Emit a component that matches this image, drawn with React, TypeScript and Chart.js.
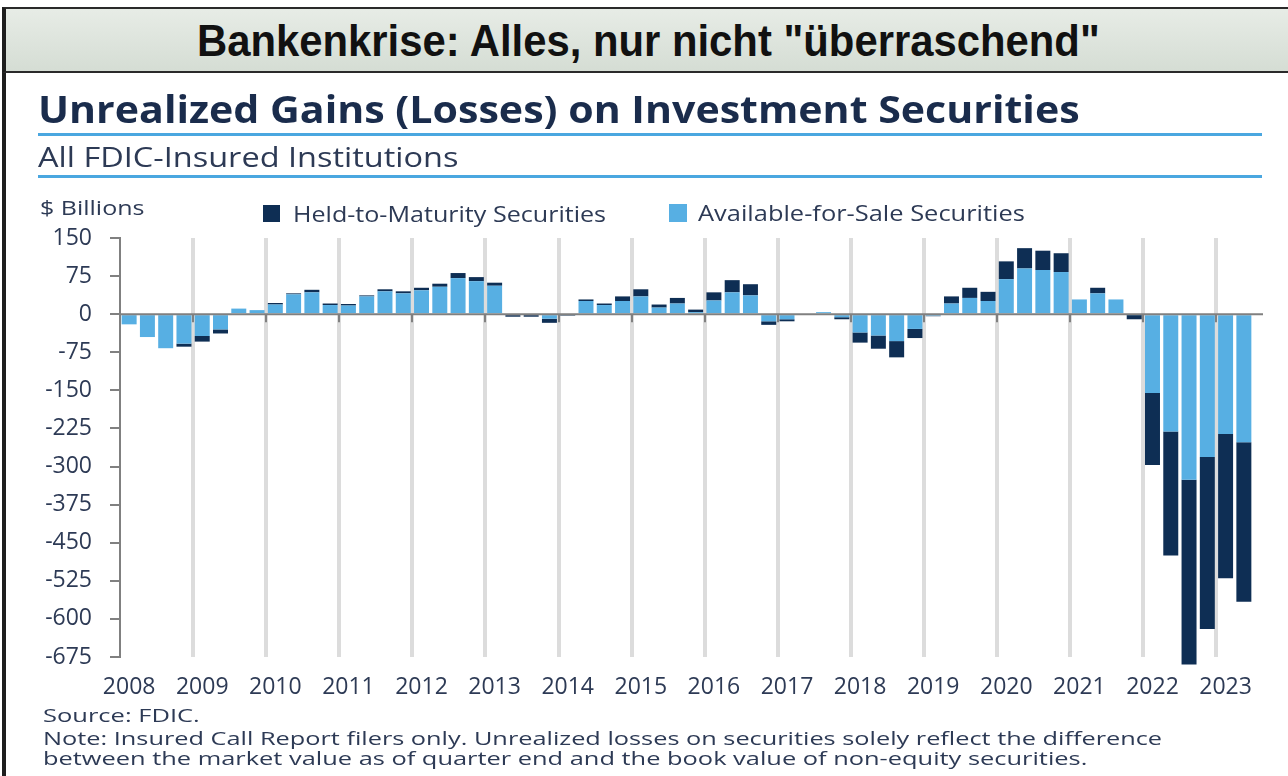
import React, { useEffect, useLayoutEffect, useRef, useState } from "react";
import { Chart, registerables } from "chart.js";

Chart.register(...registerables);

// ---- data ----
const years = ["2008", "2009", "2010", "2011", "2012", "2013", "2014", "2015", "2016", "2017", "2018", "2019", "2020", "2021", "2022", "2023"];
const quarters = ["Q1", "Q2", "Q3", "Q4"];
const quarterLabels = years.flatMap((y) => quarters.map((q) => `${y} ${q}`)).slice(0, 62);

// Available-for-Sale securities, $ billions (2008 Q1 – 2023 Q2)
const afsValues = [
  -20, -45, -67, -58,
  -43, -30, 11, 8,
  19, 39, 43, 18,
  17, 35, 45, 41,
  47, 54, 71, 65,
  56, 2, 2, -9,
  2, 26, 18, 26,
  35, 13, 21, 4,
  27, 43, 37, -14,
  -10, 0, 4, -6,
  -36, -42, -53, -29,
  -3, 21, 32, 26,
  69, 90, 87, 83,
  29, 41, 29, -1,
  -155, -231, -326, -281,
  -236, -252,
];
// Held-to-Maturity securities, $ billions
const htmValues = [
  0, 0, 0, -6,
  -11, -8, 0, 0,
  3, 2, 5, 3,
  3, 2, 4, 4,
  5, 6, 10, 8,
  6, -5, -5, -8,
  -3, 3, 3, 9,
  14, 6, 11, 5,
  16, 24, 22, -7,
  -4, 0, 0, -4,
  -20, -26, -32, -18,
  -1, 14, 20, 18,
  35, 40, 38, 37,
  0, 11, 0, -9,
  -142, -244, -364, -339,
  -284, -314,
];
const yMin = -675;
const yMax = 150;
const yStep = 75;

const seriesNames = ["Held-to-Maturity Securities", "Available-for-Sale Securities"];
const noteLines = [
  "Source: FDIC.",
  "Note: Insured Call Report filers only. Unrealized losses on securities solely reflect the difference",
  "between the market value as of quarter end and the book value of non-equity securities.",
];

// ---- styles ----
const LIGHT = "#57afe3";
const DARK = "#0e2e54";
const TEXT = "#2d3a55";
const NAVY = "#1a2c4c";
const RULE = "#4aa7e0";
const BODY_FONT = "'Open Sans', 'DejaVu Sans', sans-serif";

type FitProps = {
  text: string;
  x: number;
  cy: number;
  w: number;
  size: number;
  family?: string;
  weight?: number | string;
  color?: string;
};

function FitText({ text, x, cy, w, size, family = BODY_FONT, weight = 400, color = TEXT }: FitProps) {
  const ref = useRef<HTMLSpanElement>(null);
  const [scale, setScale] = useState(1);
  useLayoutEffect(() => {
    const measure = () => {
      const el = ref.current;
      if (!el) return;
      const nat = el.offsetWidth;
      if (nat > 0) setScale(w / nat);
    };
    measure();
    if ((document as any).fonts && (document as any).fonts.ready) {
      (document as any).fonts.ready.then(measure);
    }
  }, [text, w, size, family]);
  return (
    <span
      ref={ref}
      style={{
        position: "absolute",
        left: x,
        top: cy - size * 0.62,
        fontFamily: family,
        fontSize: size,
        fontWeight: weight as any,
        lineHeight: `${size * 1.2}px`,
        color,
        whiteSpace: "nowrap",
        transform: `scaleX(${scale})`,
        transformOrigin: "0 0",
        display: "inline-block",
      }}
    >
      {text}
    </span>
  );
}

const zeroLinePlugin = {
  id: "zeroLine",
  afterDatasetsDraw(chart: any) {
    const { ctx, chartArea, scales } = chart;
    const x = scales.x;
    const y = scales.y;
    const y0 = y.getPixelForValue(0);
    ctx.save();
    ctx.strokeStyle = "#808080";
    ctx.lineWidth = 2;
    ctx.beginPath();
    ctx.moveTo(chartArea.left, y0);
    ctx.lineTo(chartArea.right + 10, y0);
    for (let i = 4; i < quarterLabels.length; i += 4) {
      const bx = Math.round((x.getPixelForValue(i - 1) + x.getPixelForValue(i)) / 2);
      ctx.moveTo(bx, y0);
      ctx.lineTo(bx, y0 + 8);
    }
    ctx.stroke();
    ctx.restore();
  },
};

function BarChart() {
  const canvasRef = useRef<HTMLCanvasElement>(null);
  useEffect(() => {
    const canvas = canvasRef.current;
    if (!canvas) return;
    const chart = new Chart(canvas, {
      type: "bar",
      data: {
        labels: quarterLabels,
        datasets: [
          {
            label: seriesNames[1],
            data: afsValues,
            backgroundColor: LIGHT,
            borderWidth: 0,
            stack: "s",
            clip: false as any,
          },
          {
            label: seriesNames[0],
            data: htmValues,
            backgroundColor: DARK,
            borderWidth: 0,
            stack: "s",
            clip: false as any,
          },
        ],
      },
      options: {
        responsive: false,
        animation: false,
        devicePixelRatio: 1,
        layout: { padding: { left: 0, top: 238, right: 35, bottom: 69 } },
        plugins: {
          legend: { display: false },
          title: { display: false },
          tooltip: { enabled: false },
        },
        datasets: { bar: { categoryPercentage: 1, barPercentage: 0.82 } },
        scales: {
          x: {
            stacked: true,
            offset: true,
            grid: {
              offset: true,
              drawTicks: false,
              lineWidth: 4,
              color: (ctx: any) => (ctx.index > 0 && ctx.index % 4 === 0 ? "#dcdcdc" : "rgba(0,0,0,0)"),
            },
            border: { display: false },
            ticks: {
              autoSkip: false,
              maxRotation: 0,
              minRotation: 0,
              padding: 17,
              color: TEXT,
              font: { family: BODY_FONT, size: 23 },
              callback: (_v: any, i: number) => (i % 4 === 0 ? years[i / 4] : ""),
            },
            afterFit: (s: any) => {
              s.height = 50;
            },
          },
          y: {
            stacked: true,
            min: yMin,
            max: yMax,
            ticks: {
              stepSize: yStep,
              padding: 18,
              color: TEXT,
              font: { family: BODY_FONT, size: 23 },
            },
            grid: {
              color: "rgba(0,0,0,0)",
              tickColor: "#808080",
              tickLength: 10,
              lineWidth: 2,
            },
            border: { display: true, color: "#808080", width: 2 },
            afterFit: (s: any) => {
              s.width = 120;
            },
          },
        },
      } as any,
      plugins: [zeroLinePlugin],
    });
    return () => chart.destroy();
  }, []);
  return (
    <canvas
      ref={canvasRef}
      width={1288}
      height={776}
      style={{ position: "absolute", left: 0, top: 0, width: 1288, height: 776 }}
    />
  );
}

export default function App() {
  return (
    <div
      style={{
        position: "absolute",
        left: 0,
        top: 0,
        width: 1288,
        height: 776,
        background: "#ffffff",
        overflow: "hidden",
      }}
    >
      <BarChart />
      {/* frame */}
      <div style={{ position: "absolute", left: 2, top: 7, width: 4, height: 769, background: "#1e1e1e" }} />
      {/* banner */}
      <div
        style={{
          position: "absolute",
          left: 2,
          top: 7,
          width: 1286,
          height: 66,
          background: "linear-gradient(to bottom, #e7ece6, #d5ddd4)",
          borderTop: "2px solid #2a2a2a",
          borderBottom: "2px solid #2a2a2a",
          borderLeft: "4px solid #1e1e1e",
          boxSizing: "border-box",
        }}
      />
      <FitText
        text={'Bankenkrise: Alles, nur nicht "überraschend"'}
        x={197}
        cy={42}
        w={903}
        size={44}
        weight={700}
        family="'Liberation Sans', Arial, sans-serif"
        color="#111111"
      />
      <FitText
        text="Unrealized Gains (Losses) on Investment Securities"
        x={38}
        cy={110}
        w={1042}
        size={38}
        weight={700}
        color={NAVY}
      />
      <div style={{ position: "absolute", left: 38, top: 133, width: 1224, height: 3, background: RULE }} />
      <FitText text="All FDIC-Insured Institutions" x={38} cy={157} w={420} size={28} color={TEXT} />
      <div style={{ position: "absolute", left: 38, top: 175, width: 1224, height: 3, background: RULE }} />
      <FitText text="$ Billions" x={40} cy={208} w={105} size={20} color={TEXT} />
      {/* legend */}
      <div style={{ position: "absolute", left: 263, top: 205, width: 17, height: 17, background: DARK }} />
      <FitText text={seriesNames[0]} x={293} cy={215} w={313} size={21} color={TEXT} />
      <div style={{ position: "absolute", left: 669, top: 204, width: 18, height: 18, background: LIGHT }} />
      <FitText text={seriesNames[1]} x={698} cy={214} w={327} size={21} color={TEXT} />
      {/* notes */}
      <FitText text={noteLines[0]} x={43} cy={716} w={157} size={19} color={TEXT} />
      <FitText text={noteLines[1]} x={43} cy={739} w={1119} size={19} color={TEXT} />
      <FitText text={noteLines[2]} x={43} cy={759} w={1044} size={19} color={TEXT} />
    </div>
  );
}
